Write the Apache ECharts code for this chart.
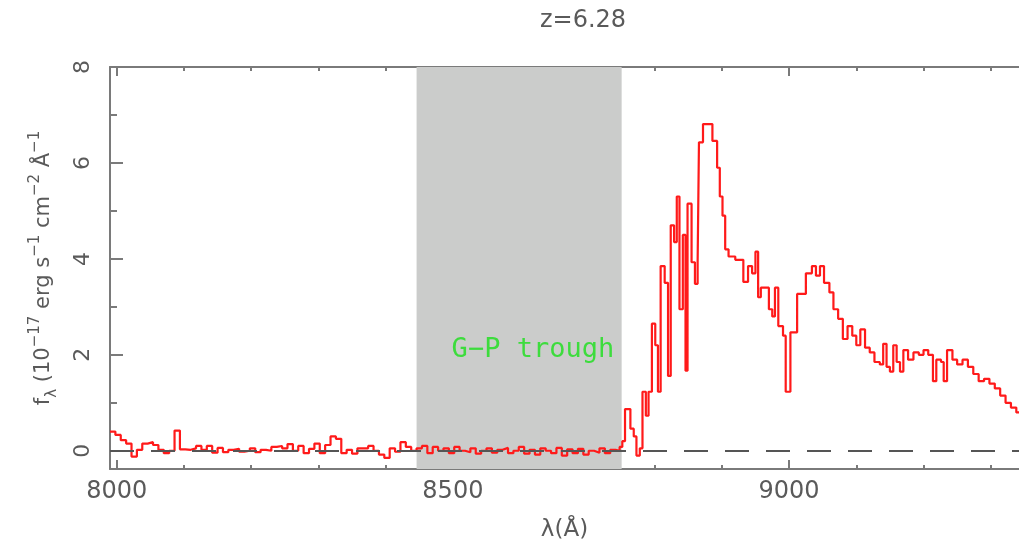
<!DOCTYPE html>
<html>
<head>
<meta charset="utf-8">
<script src="https://cdn.jsdelivr.net/npm/echarts@6/dist/echarts.min.js"></script>
<style>html,body{margin:0;padding:0;background:#fff}#c{width:1019px;height:547px}</style>
</head>
<body>
<div id="c"></div>
<script>
// Wavelengths (Angstrom) and flux (1e-17 erg/s/cm2/A), step spectrum
const wavelength = [
  7990,7998,8006,8014,8022,8030,8038,8046,8054,8062,8070,8078,8086,8094,8102,8110,8118,8126,8134,8142,
  8150,8158,8166,8174,8182,8190,8198,8206,8214,8222,8230,8238,8246,8254,8262,8270,8278,8286,8294,8302,
  8310,8318,8326,8334,8342,8350,8358,8366,8374,8382,8390,8398,8406,8414,8422,8430,8438,8446,8454,8462,
  8470,8478,8486,8494,8502,8510,8518,8526,8534,8542,8550,8558,8566,8574,8582,8590,8598,8606,8614,8622,
  8630,8638,8646,8654,8662,8670,8678,8686,8694,8702,8710,8718,8726,8734,8742,8748,
  8752,8756,8764,8769,8773,8778,8782,8787,8791,8796,8801,8805,8809,8815,8820,8824,8829,8833,8837,8842,
  8846,8849,8855,8860,8864,8866,8872,8886,8893,8897,8901,8905,8910,8920,8932,8939,8945,8950,8954,8958,
  8963,8970,8975,8979,8984,8991,8995,9002,9012,9025,9034,9040,9046,9052,9060,9066,9073,9080,9087,9094,
  9100,9106,9113,9120,9127,9135,9140,9145,9150,9155,9160,9165,9170,9177,9185,9193,9200,9207,9214,9219,
  9226,9230,9235,9243,9250,9258,9266,9274,9282,9290,9298,9306,9314,9322,9330,9338,9345
];
const flux = [
  0.40,0.33,0.22,0.15,-0.12,0.02,0.15,0.18,0.12,0.02,-0.05,0.00,0.42,0.03,0.02,0.05,0.10,0.02,0.10,-0.04,
  0.06,-0.03,0.02,0.04,-0.02,0.00,0.05,-0.03,0.02,0.00,0.08,0.10,0.05,0.14,0.00,0.10,-0.05,0.04,0.15,-0.05,
  0.12,0.30,0.25,-0.05,0.02,-0.06,0.05,0.05,0.10,0.00,-0.08,-0.15,0.05,-0.02,0.18,0.08,0.00,0.05,0.10,-0.05,
  0.08,0.00,0.05,-0.05,0.08,0.00,-0.03,0.05,-0.06,0.00,0.05,-0.04,0.02,0.06,-0.05,0.00,0.08,-0.06,0.02,-0.08,
  0.05,0.00,-0.05,0.06,-0.10,0.03,-0.05,0.04,-0.08,0.00,-0.04,0.05,-0.05,0.02,0.00,0.08,
  0.20,0.87,0.46,0.30,-0.10,0.05,1.23,0.73,1.23,2.65,2.20,1.23,3.85,3.50,1.56,4.70,4.35,5.30,2.95,4.50,
  1.67,5.15,3.93,3.48,3.93,6.43,6.81,6.46,5.90,5.30,4.90,4.20,4.05,3.98,3.52,3.85,3.70,4.15,3.20,3.40,
  3.40,2.95,2.80,3.40,2.60,2.40,1.23,2.47,3.27,3.70,3.85,3.65,3.85,3.50,3.30,2.95,2.75,2.33,2.60,2.40,
  2.20,2.53,2.15,2.05,1.85,1.80,2.23,1.75,1.65,2.20,1.85,1.65,2.10,1.90,2.05,2.00,2.10,2.00,1.45,1.90,
  1.85,1.45,2.10,1.90,1.80,1.90,1.75,1.60,1.45,1.50,1.40,1.30,1.15,1.00,0.90,0.80,0.80
];
const xMajorTicks = [8000, 8500, 9000];
const xMinorTicks = [8000,8100,8200,8300,8400,8500,8600,8700,8800,8900,9000,9100,9200,9300];
const yMajorTicks = [0, 2, 4, 6, 8];
const yMinorTicks = [1, 3, 5, 7];
const troughRange = [8446, 8751];
const troughLabel = 'G\u2212P trough';
const troughLabelPos = [8619, 2.1];
const titleText = 'z=6.28';

const spectrum = wavelength.map((w, i) => [w, flux[i]]);
const axisGray = '#7a7a7a';
const labelGray = '#5a5a5a';
const XMIN = 7990, XMAX = 9342, YMIN = -0.38, YMAX = 8;
const font = 'DejaVu Sans';

function xAx(pos, ticks, len, showLine, labels) {
  return {
    type: 'value', position: pos, min: XMIN, max: XMAX,
    axisLine: { show: showLine, onZero: false, lineStyle: { color: axisGray, width: 2 } },
    axisTick: { show: true, inside: true, length: len, customValues: ticks, lineStyle: { color: axisGray, width: 2 } },
    axisLabel: labels ? { show: true, customValues: xMajorTicks, formatter: v => String(v), color: labelGray, fontFamily: font, fontSize: 24, margin: 11 } : { show: false },
    splitLine: { show: false }
  };
}
function yAx(ticks, len, showLine, labels) {
  return {
    type: 'value', position: 'left', min: YMIN, max: YMAX,
    axisLine: { show: showLine, onZero: false, lineStyle: { color: axisGray, width: 2 } },
    axisTick: { show: true, inside: true, length: len, customValues: ticks, lineStyle: { color: axisGray, width: 2 } },
    axisLabel: labels ? { show: true, customValues: yMajorTicks, rotate: 90, color: labelGray, fontFamily: font, fontSize: 22, margin: 16 } : { show: false },
    splitLine: { show: false }
  };
}

const xAxes = [
  xAx('bottom', xMajorTicks, 9, true, true),
  xAx('bottom', xMinorTicks, 4, false, false),
  xAx('top', xMajorTicks, 9, true, false),
  xAx('top', xMinorTicks, 4, false, false)
];
xAxes[0].name = '\u03bb(\u00c5)';
xAxes[0].nameLocation = 'middle';
xAxes[0].nameGap = 50;
xAxes[0].nameTextStyle = { color: labelGray, fontFamily: font, fontSize: 23 };

const yAxes = [yAx(yMajorTicks, 13, true, true), yAx(yMinorTicks, 7, false, false)];
yAxes[0].name = '{b|f}{sub|\u03bb}{b| (10}{sup|\u221217}{b| erg s}{sup|\u22121}{b| cm}{sup|\u22122}{b| \u00c5}{sup|\u22121}';
yAxes[0].nameLocation = 'middle';
yAxes[0].nameRotate = 90;
yAxes[0].nameGap = 50;
yAxes[0].nameTextStyle = {
  color: labelGray, fontFamily: font,
  rich: {
    b: { fontSize: 21, color: labelGray, fontFamily: font, lineHeight: 32 },
    sup: { fontSize: 15, color: labelGray, fontFamily: font, verticalAlign: 'top', lineHeight: 15 },
    sub: { fontSize: 15, color: labelGray, fontFamily: font, verticalAlign: 'bottom', lineHeight: 15 }
  }
};

const chart = echarts.init(document.getElementById('c'), null, { renderer: 'canvas' });
chart.setOption({
  animation: false,
  backgroundColor: '#ffffff',
  title: {
    text: titleText, left: 578, top: 4, textAlign: 'center',
    textStyle: { color: labelGray, fontFamily: font, fontSize: 24, fontWeight: 'normal' }
  },
  grid: { left: 110, right: 0, top: 67, bottom: 78, containLabel: false },
  xAxis: xAxes,
  yAxis: yAxes,
  series: [
    {
      type: 'line', data: [], xAxisIndex: 0, yAxisIndex: 0, z: 1, silent: true,
      markArea: {
        silent: true,
        itemStyle: { color: '#cbcccb' },
        data: [[{ xAxis: troughRange[0] }, { xAxis: troughRange[1] }]]
      },
      markLine: {
        silent: true, symbol: ['none', 'none'],
        label: { show: false },
        lineStyle: { color: '#555555', type: [24, 17], width: 2 },
        data: [{ yAxis: 0 }]
      },
      markPoint: {
        silent: true, symbol: 'circle', symbolSize: 0,
        label: {
          show: true, position: 'inside', formatter: troughLabel,
          color: '#3ddc3d', fontFamily: 'DejaVu Sans Mono', fontSize: 27
        },
        data: [{ coord: troughLabelPos }]
      }
    },
    {
      type: 'line', data: spectrum, step: 'end', xAxisIndex: 0, yAxisIndex: 0, z: 3,
      showSymbol: false, symbol: 'none',
      lineStyle: { color: '#ff1a1a', width: 2.2 }
    }
  ]
});
</script>
</body>
</html>
